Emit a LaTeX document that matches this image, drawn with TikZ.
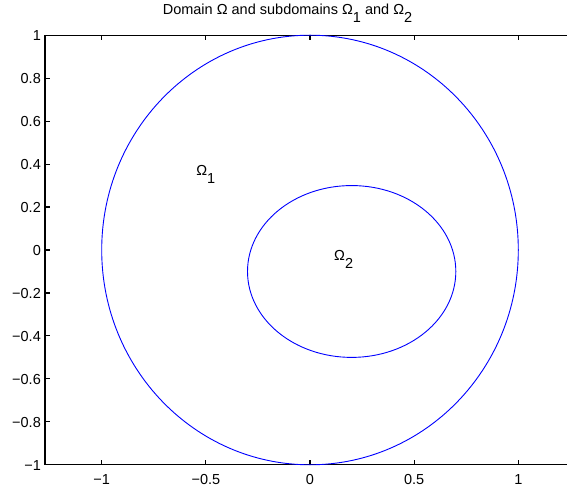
\documentclass[tikz,border=0pt]{standalone}
\usepackage{fontspec}
\setmainfont{Liberation Sans}
\newcommand{\omsub}[1]{Ω\raisebox{-0.55em}{#1}}

\begin{document}
\begin{tikzpicture}[x=1pt,y=1pt,font=\fontsize{14.5}{17}\selectfont,
  axisline/.style={line width=1.1pt,black},
  curve/.style={line width=0.9pt,blue},
  ticklabel/.style={inner sep=0pt}]
\useasboundingbox (0,0) rectangle (567,495);
% ---------- title ----------
\node[anchor=base,inner sep=0pt] (title) at (287.5,480) {Domain Ω and subdomains \omsub{1} and \omsub{2}};
% ---------- axes (data coordinates) ----------
\begin{scope}[shift={(310,245)},x=208.3pt,y=214.8pt]
% frame, open at the right edge
\draw[axisline] (1.234,1) -- (-1.272,1) -- (-1.272,-1) -- (1.234,-1);
% x ticks and labels
\foreach \x/\t [count=\i] in {-1/−1,-0.5/−0.5,0/0,0.5/0.5,1/1} {
  \draw[axisline] (\x,-1) -- ++(0,5pt);
  \draw[axisline] (\x,1) -- ++(0,-5pt);
  \node[ticklabel,anchor=base,yshift=-20pt] (xt\i) at (\x,-1) {\t};
}
% y ticks and labels
\foreach \y/\t [count=\i] in {-1/−1,-0.8/−0.8,-0.6/−0.6,-0.4/−0.4,-0.2/−0.2,0/0,0.2/0.2,0.4/0.4,0.6/0.6,0.8/0.8,1/1} {
  \draw[axisline] (-1.272,\y) -- ++(5pt,0);
  \node[ticklabel,anchor=base east,xshift=-4pt,yshift=-5.2pt] (yt\i) at (-1.272,\y) {\t};
}
% domain and subdomain boundaries
\draw[curve] (0,0) circle[radius=1];
\draw[curve] (0.2,-0.1) ellipse[x radius=0.5,y radius=0.4];
% region labels
\node[ticklabel,anchor=base west] (om1) at (-0.547,0.349) {\omsub{1}};
\node[ticklabel,anchor=base west] (om2) at (0.115,-0.047) {\omsub{2}};
\end{scope}
\end{tikzpicture}
\end{document}
